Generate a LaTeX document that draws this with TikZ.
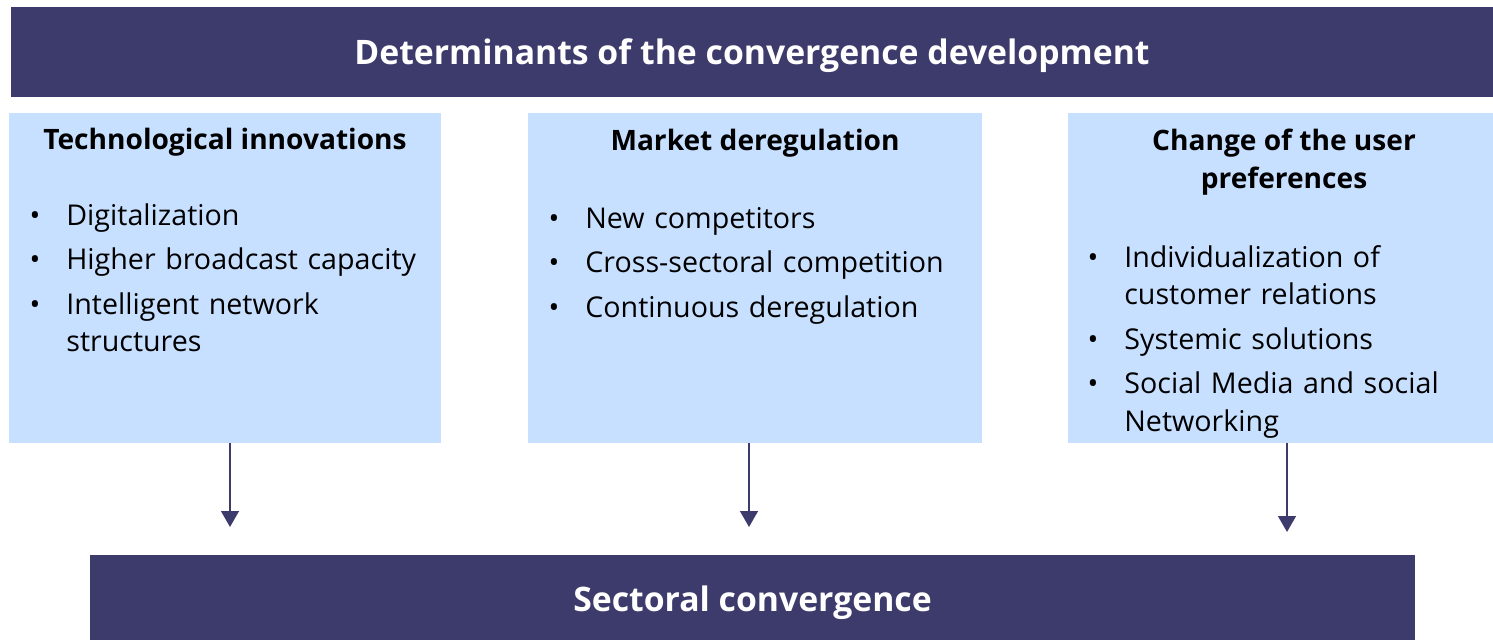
\documentclass[tikz,border=0pt]{standalone}
\usepackage{fontspec}
\setmainfont{Open Sans}
\usepackage{enumitem}
\usetikzlibrary{fit,arrows.meta}

\definecolor{darkbar}{HTML}{3D3B6B}
\definecolor{lightbox}{HTML}{C8E0FF}

\setlist[itemize]{label=\textbullet, leftmargin=1.0cm, labelsep=0.52cm, topsep=0pt, partopsep=0pt, parsep=0pt, itemsep=3.8pt}

\tikzset{
    bar/.style={fill=darkbar, inner sep=0pt},
    bartext/.style={text=white, font=\fontsize{19.2}{23}\selectfont\bfseries},
    detbox/.style={fill=lightbox, inner sep=0pt},
    headtext/.style={font=\fontsize{16}{22}\selectfont\bfseries, align=center},
    listtext/.style={anchor=north west, inner sep=0pt, text width=9.5cm, font=\fontsize{16.3}{21.5}\selectfont},
    flow/.style={darkbar, line width=1.2pt, -{Triangle[width=10pt,length=9pt]}}
}

\begin{document}
\begin{tikzpicture}[x=0.02cm, y=-0.02cm]
    \useasboundingbox (0,0) rectangle (1493,640);

    % Title bar on top
    \node[bar, fit={(11,7) (1493,97)}] (top) {};
    \node[bartext] at ([yshift=-0.08cm]top.center) {Determinants of the convergence development};

    % Three boxes of determinants
    \node[detbox, fit={(9,113) (441,443)}] (tech) {};
    \node[detbox, fit={(528,113) (982,443)}] (market) {};
    \node[detbox, fit={(1068,113) (1493,443)}] (user) {};

    % Headings of the boxes
    \node[headtext] (techhead) at (225,142) {Technological innovations};
    \node[headtext] (markethead) at (755,143) {Market deregulation};
    \node[headtext] (userhead) at (1284,162) {Change of the user\\preferences};

    % Bullet lists
    \node[listtext] (techlist) at (16,187) {%
        \begin{itemize}
            \item Digitalization
            \item Higher broadcast capacity
            \item Intelligent network\newline structures
        \end{itemize}};
    \node[listtext] (marketlist) at (535,190) {%
        \begin{itemize}
            \item New competitors
            \item Cross-sectoral competition
            \item Continuous deregulation
        \end{itemize}};
    \node[listtext] (userlist) at (1074,229) {%
        \begin{itemize}
            \item Individualization of\newline customer relations
            \item Systemic solutions
            \item Social Media and social\newline Networking
        \end{itemize}};

    % Bottom bar
    \node[bar, fit={(90,555) (1415,640)}] (bottom) {};
    \node[bartext] at ([yshift=-0.1cm]bottom.center) {Sectoral convergence};

    % Arrows down to the bottom bar
    \coordinate (techend) at (230,527);
    \coordinate (marketend) at (749,527);
    \coordinate (userend) at (1287,532);
    \draw[flow] (tech.south -| techend) -- (techend);
    \draw[flow] (market.south -| marketend) -- (marketend);
    \draw[flow] (user.south -| userend) -- (userend);

\end{tikzpicture}
\end{document}
